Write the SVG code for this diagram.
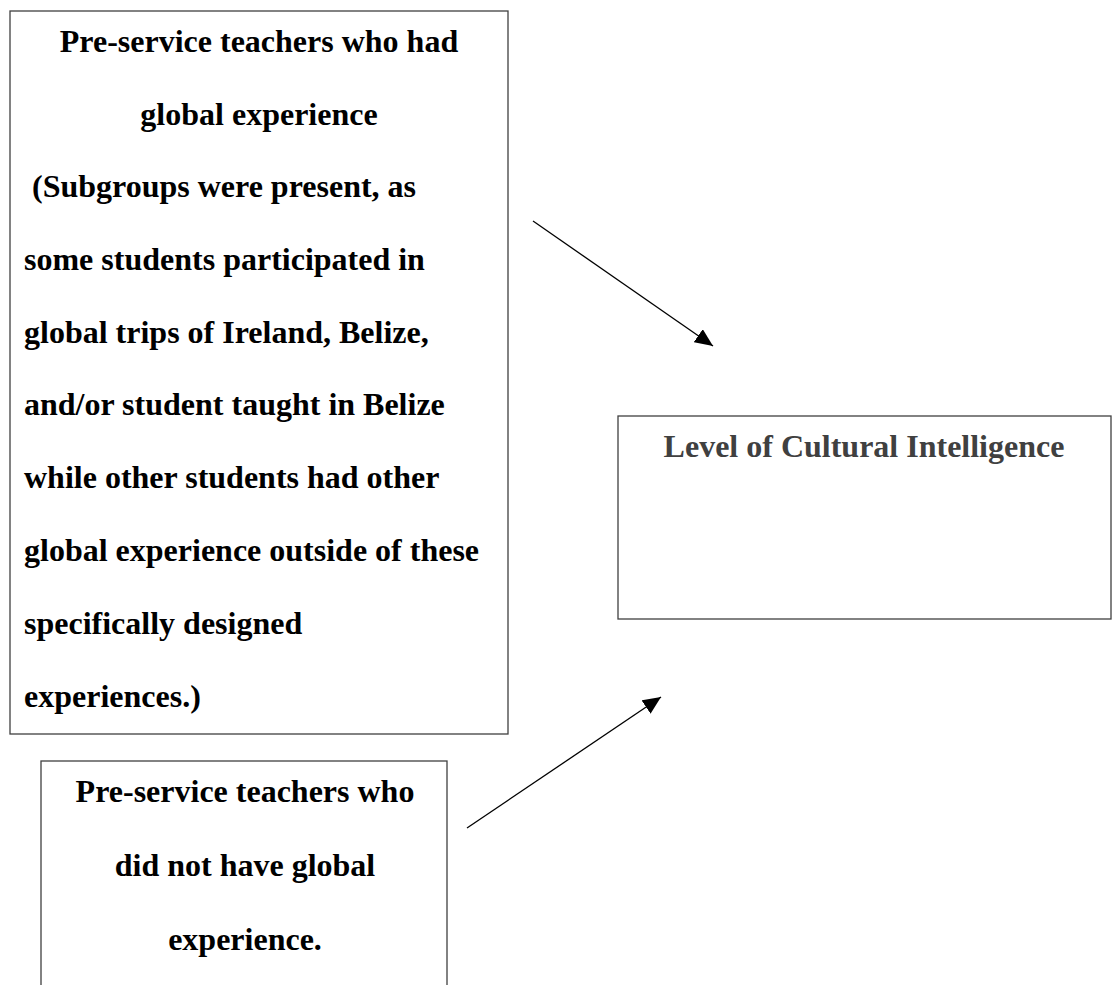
<svg xmlns="http://www.w3.org/2000/svg" width="1113" height="985" viewBox="0 0 1113 985">
<style>
.box{fill:#fff;stroke:#404040;stroke-width:1.3}
.t{font-family:"Liberation Serif","Times New Roman",serif;font-weight:bold;font-size:32px;fill:#000}
.c{text-anchor:middle}
.g{fill:#404040}
.conn{stroke:#000;stroke-width:1.3;fill:none}
</style>
<defs>
<marker id="ah" markerWidth="18" markerHeight="16" refX="18" refY="8" orient="auto" markerUnits="userSpaceOnUse" viewBox="0 0 18 16">
<path d="M0,0 L18,8 L0,16 z" fill="#000"/>
</marker>
</defs>
<rect width="1113" height="985" fill="#fff"/>
<g id="node-global">
<rect class="box" x="10" y="11" width="498" height="723"/>
<text class="t c" x="259" y="52">Pre-service teachers who had</text>
<text class="t c" x="259" y="125">global experience</text>
<text class="t" x="24" y="197" xml:space="preserve"> (Subgroups were present, as</text>
<text class="t" x="24" y="270">some students participated in</text>
<text class="t" x="24" y="343">global trips of Ireland, Belize,</text>
<text class="t" x="24" y="415">and/or student taught in Belize</text>
<text class="t" x="24" y="488">while other students had other</text>
<text class="t" x="24" y="561">global experience outside of these</text>
<text class="t" x="24" y="634">specifically designed</text>
<text class="t" x="24" y="707">experiences.)</text>
</g>
<g id="node-noglobal">
<rect class="box" x="41" y="761" width="406" height="240"/>
<text class="t c" x="245" y="802">Pre-service teachers who</text>
<text class="t c" x="245" y="876">did not have global</text>
<text class="t c" x="245" y="950">experience.</text>
</g>
<g id="node-cq">
<rect class="box" x="618" y="416" width="493" height="203"/>
<text class="t c g" x="864" y="457">Level of Cultural Intelligence</text>
</g>
<g id="connectors">
<line class="conn" x1="533" y1="221" x2="713" y2="346" marker-end="url(#ah)"/>
<line class="conn" x1="467" y1="828" x2="661" y2="697" marker-end="url(#ah)"/>
</g>
</svg>
